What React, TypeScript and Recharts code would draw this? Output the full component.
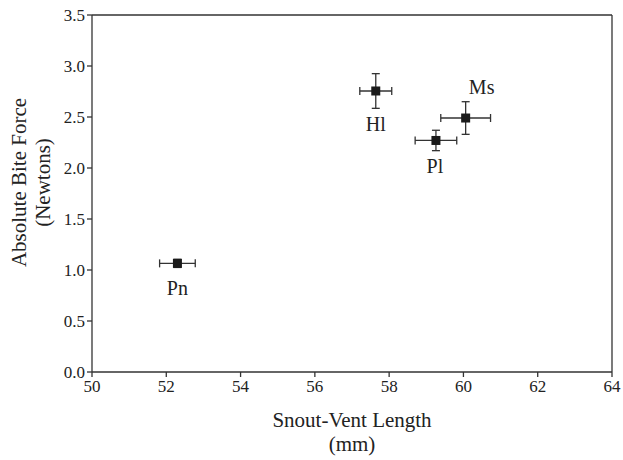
import { ScatterChart, Scatter, XAxis, YAxis, ErrorBar, ReferenceLine, Label } from "recharts";

const species = ["Pn", "Hl", "Pl", "Ms"];
const svl = [52.3, 57.64, 59.26, 60.06];
const svlSe = [0.48, 0.43, 0.56, 0.67];
const biteForce = [1.065, 2.755, 2.27, 2.49];
const biteForceSe = [0.04, 0.17, 0.1, 0.16];
const xTicks = [50, 52, 54, 56, 58, 60, 62, 64];
const yTicks = [0, 0.5, 1, 1.5, 2, 2.5, 3, 3.5];

const data = species.map((name, i) => ({
  name,
  svl: svl[i],
  svlSe: svlSe[i],
  force: biteForce[i],
  forceSe: biteForceSe[i],
}));

const font = "Liberation Serif, Times New Roman, serif";
const ink = "#222";
const axisColor = "#333";

// where each species name sits relative to its marker
const labelOffset: Record<string, [number, number]> = {
  Pn: [0, 32],
  Hl: [0, 40],
  Pl: [-1, 33],
  Ms: [16, -24],
};

const Marker = (props: any) => {
  const { cx, cy, payload } = props;
  const [dx, dy] = labelOffset[payload.name] || [0, 30];
  return (
    <g>
      <rect x={cx - 4.5} y={cy - 4.5} width={9} height={9} fill="#1a1a1a" />
      <text x={cx + dx} y={cy + dy} textAnchor="middle" fontSize={20} fill={ink} style={{ fontFamily: font }}>
        {payload.name}
      </text>
    </g>
  );
};

const XTitle = (props: any) => {
  const vb = props.viewBox;
  const cx = vb.x + vb.width / 2;
  return (
    <g fontSize={21} fill={ink} style={{ fontFamily: font }}>
      <text x={cx} y={vb.y + 55} textAnchor="middle">Snout-Vent Length</text>
      <text x={cx} y={vb.y + 79} textAnchor="middle">(mm)</text>
    </g>
  );
};

const YTitle = (props: any) => {
  const vb = props.viewBox;
  const cy = vb.y + vb.height / 2 - 11;
  return (
    <g fontSize={21} fill={ink} style={{ fontFamily: font }}>
      <text x={26} y={cy} textAnchor="middle" transform={`rotate(-90, 26, ${cy})`}>
        Absolute Bite Force
      </text>
      <text x={50} y={cy} textAnchor="middle" transform={`rotate(-90, 50, ${cy})`}>
        (Newtons)
      </text>
    </g>
  );
};

const tickStyle = { fill: ink, fontSize: 17, style: { fontFamily: font } };

export default function App() {
  return (
    <div style={{ position: "absolute", left: 0, top: 0, background: "#fff", fontFamily: font }}>
      <ScatterChart
        width={623}
        height={460}
        margin={{ top: 15, right: 11, bottom: 0, left: 0 }}
        style={{ fontFamily: font }}
      >
        <XAxis
          type="number"
          dataKey="svl"
          domain={[50, 64]}
          ticks={xTicks}
          allowDataOverflow
          height={88}
          tickSize={5}
          tickMargin={3}
          stroke={axisColor}
          strokeWidth={1.3}
          tick={tickStyle}
        >
          <Label content={XTitle} />
        </XAxis>
        <YAxis
          type="number"
          dataKey="force"
          domain={[0, 3.5]}
          ticks={yTicks}
          allowDataOverflow
          width={92}
          tickSize={5}
          tickMargin={2}
          stroke={axisColor}
          strokeWidth={1.3}
          tickFormatter={(v: number) => v.toFixed(1)}
          tick={tickStyle}
        >
          <Label content={YTitle} />
        </YAxis>
        <ReferenceLine y={3.5} stroke={axisColor} strokeWidth={1.3} />
        <ReferenceLine x={64} stroke={axisColor} strokeWidth={1.3} />
        <Scatter data={data} shape={Marker} isAnimationActive={false}>
          <ErrorBar dataKey="svlSe" direction="x" width={4} stroke={axisColor} strokeWidth={1.3} />
          <ErrorBar dataKey="forceSe" direction="y" width={4} stroke={axisColor} strokeWidth={1.3} />
        </Scatter>
      </ScatterChart>
    </div>
  );
}
